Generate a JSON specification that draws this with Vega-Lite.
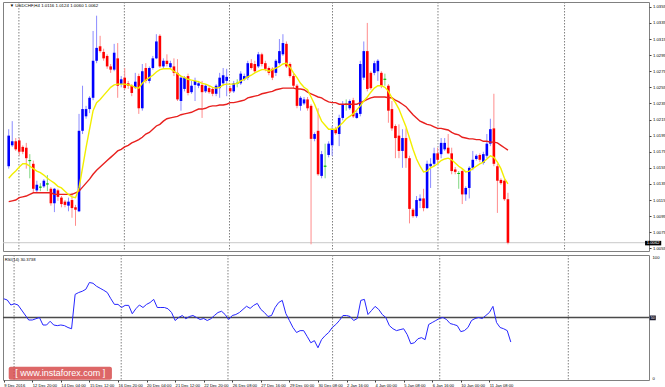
{
  "$schema": "https://vega.github.io/schema/vega-lite/v6.json",
  "background": "#ffffff",
  "padding": {"left": 1, "top": 1, "right": 0, "bottom": 0},
  "spacing": 2,
  "config": {
    "view": {"stroke": "#808080", "strokeWidth": 1},
    "font": "Liberation Sans, DejaVu Sans",
    "axis": {"labelFont": "Liberation Sans", "labelColor": "#000000", "tickColor": "#404040", "domain": false, "grid": false, "labelOverlap": false}
  },
  "resolve": {"scale": {"x": "independent"}},
  "datasets": {
    "grid": [{"g": 2.9}, {"g": 32.9}, {"g": 62.8}, {"g": 92.1}, {"g": 122.1}, {"g": 158.1}],
    "bars": [
      {"i":0,"o":1.0157,"h":1.0203,"l":1.0154,"c":1.0195,"m1":1.0142,"m2":1.0113,"r":65},
      {"i":1,"o":1.0183,"h":1.0213,"l":1.0181,"c":1.0188,"m1":1.0147,"m2":1.0114,"r":64},
      {"i":2,"o":1.0188,"h":1.0192,"l":1.0176,"c":1.0178,"m1":1.0151,"m2":1.0115,"r":60},
      {"i":3,"o":1.0189,"h":1.0192,"l":1.0170,"c":1.0175,"m1":1.0156,"m2":1.0118,"r":61},
      {"i":4,"o":1.0181,"h":1.0183,"l":1.0172,"c":1.0175,"m1":1.0160,"m2":1.0119,"r":60},
      {"i":5,"o":1.0180,"h":1.0186,"l":1.0154,"c":1.0167,"m1":1.0160,"m2":1.0120,"r":56},
      {"i":6,"o":1.0164,"h":1.0172,"l":1.0142,"c":1.0164,"m1":1.0157,"m2":1.0122,"r":52},
      {"i":7,"o":1.0160,"h":1.0164,"l":1.0125,"c":1.0129,"m1":1.0154,"m2":1.0124,"r":48},
      {"i":8,"o":1.0127,"h":1.0139,"l":1.0124,"c":1.0134,"m1":1.0151,"m2":1.0124,"r":48},
      {"i":9,"o":1.0131,"h":1.0136,"l":1.0126,"c":1.0131,"m1":1.0149,"m2":1.0124,"r":49},
      {"i":10,"o":1.0132,"h":1.0141,"l":1.0130,"c":1.0139,"m1":1.0146,"m2":1.0124,"r":50},
      {"i":11,"o":1.0135,"h":1.0146,"l":1.0126,"c":1.0135,"m1":1.0142,"m2":1.0124,"r":44},
      {"i":12,"o":1.0129,"h":1.0131,"l":1.0108,"c":1.0111,"m1":1.0139,"m2":1.0124,"r":44},
      {"i":13,"o":1.0111,"h":1.0130,"l":1.0100,"c":1.0129,"m1":1.0136,"m2":1.0122,"r":47},
      {"i":14,"o":1.0127,"h":1.0129,"l":1.0114,"c":1.0119,"m1":1.0132,"m2":1.0122,"r":44},
      {"i":15,"o":1.0118,"h":1.0120,"l":1.0106,"c":1.0110,"m1":1.0130,"m2":1.0122,"r":43.5},
      {"i":16,"o":1.0113,"h":1.0115,"l":1.0106,"c":1.0109,"m1":1.0126,"m2":1.0122,"r":44},
      {"i":17,"o":1.0108,"h":1.0118,"l":1.0101,"c":1.0113,"m1":1.0122,"m2":1.0122,"r":43.5},
      {"i":18,"o":1.0115,"h":1.0124,"l":1.0093,"c":1.0105,"m1":1.0119,"m2":1.0122,"r":42},
      {"i":19,"o":1.0106,"h":1.0109,"l":1.0083,"c":1.0103,"m1":1.0118,"m2":1.0124,"r":41},
      {"i":20,"o":1.0101,"h":1.0222,"l":1.0100,"c":1.0201,"m1":1.0130,"m2":1.0126,"r":68.5},
      {"i":21,"o":1.0201,"h":1.0257,"l":1.0197,"c":1.0228,"m1":1.0155,"m2":1.0131,"r":70},
      {"i":22,"o":1.0219,"h":1.0232,"l":1.0216,"c":1.0228,"m1":1.0180,"m2":1.0136,"r":71},
      {"i":23,"o":1.0228,"h":1.0244,"l":1.0223,"c":1.0242,"m1":1.0203,"m2":1.0141,"r":72.6},
      {"i":24,"o":1.0242,"h":1.0325,"l":1.0239,"c":1.0288,"m1":1.0226,"m2":1.0147,"r":78},
      {"i":25,"o":1.0288,"h":1.0344,"l":1.0285,"c":1.0304,"m1":1.0236,"m2":1.0152,"r":77.4},
      {"i":26,"o":1.0306,"h":1.0319,"l":1.0298,"c":1.0300,"m1":1.0240,"m2":1.0156,"r":75},
      {"i":27,"o":1.0299,"h":1.0303,"l":1.0288,"c":1.0291,"m1":1.0245,"m2":1.0160,"r":73.4},
      {"i":28,"o":1.0294,"h":1.0296,"l":1.0278,"c":1.0281,"m1":1.0250,"m2":1.0164,"r":71.8},
      {"i":29,"o":1.0281,"h":1.0284,"l":1.0273,"c":1.0277,"m1":1.0255,"m2":1.0168,"r":70},
      {"i":30,"o":1.0277,"h":1.0309,"l":1.0275,"c":1.0298,"m1":1.0258,"m2":1.0172,"r":65},
      {"i":31,"o":1.0291,"h":1.0310,"l":1.0242,"c":1.0257,"m1":1.0259,"m2":1.0176,"r":60.5},
      {"i":32,"o":1.0259,"h":1.0269,"l":1.0255,"c":1.0265,"m1":1.0259,"m2":1.0178,"r":60.5},
      {"i":33,"o":1.0267,"h":1.0279,"l":1.0252,"c":1.0254,"m1":1.0259,"m2":1.0181,"r":58},
      {"i":34,"o":1.0260,"h":1.0263,"l":1.0253,"c":1.0257,"m1":1.0258,"m2":1.0183,"r":59.7},
      {"i":35,"o":1.0257,"h":1.0259,"l":1.0244,"c":1.0248,"m1":1.0257,"m2":1.0186,"r":59.7},
      {"i":36,"o":1.0255,"h":1.0273,"l":1.0253,"c":1.0262,"m1":1.0255,"m2":1.0188,"r":53},
      {"i":37,"o":1.0269,"h":1.0272,"l":1.0222,"c":1.0229,"m1":1.0254,"m2":1.0190,"r":57},
      {"i":38,"o":1.0229,"h":1.0284,"l":1.0226,"c":1.0275,"m1":1.0260,"m2":1.0193,"r":60},
      {"i":39,"o":1.0279,"h":1.0285,"l":1.0260,"c":1.0263,"m1":1.0264,"m2":1.0197,"r":58},
      {"i":40,"o":1.0263,"h":1.0281,"l":1.0260,"c":1.0279,"m1":1.0267,"m2":1.0199,"r":60.5},
      {"i":41,"o":1.0279,"h":1.0294,"l":1.0277,"c":1.0291,"m1":1.0270,"m2":1.0203,"r":62},
      {"i":42,"o":1.0291,"h":1.0321,"l":1.0290,"c":1.0312,"m1":1.0274,"m2":1.0207,"r":64.5},
      {"i":43,"o":1.0319,"h":1.0321,"l":1.0279,"c":1.0281,"m1":1.0277,"m2":1.0209,"r":58},
      {"i":44,"o":1.0281,"h":1.0291,"l":1.0279,"c":1.0288,"m1":1.0278,"m2":1.0213,"r":58},
      {"i":45,"o":1.0288,"h":1.0296,"l":1.0281,"c":1.0284,"m1":1.0278,"m2":1.0216,"r":58},
      {"i":46,"o":1.0280,"h":1.0288,"l":1.0278,"c":1.0285,"m1":1.0278,"m2":1.0217,"r":57},
      {"i":47,"o":1.0281,"h":1.0291,"l":1.0269,"c":1.0273,"m1":1.0275,"m2":1.0218,"r":54},
      {"i":48,"o":1.0273,"h":1.0290,"l":1.0238,"c":1.0240,"m1":1.0272,"m2":1.0219,"r":47.6},
      {"i":49,"o":1.0238,"h":1.0269,"l":1.0226,"c":1.0267,"m1":1.0269,"m2":1.0221,"r":50},
      {"i":50,"o":1.0253,"h":1.0269,"l":1.0250,"c":1.0267,"m1":1.0267,"m2":1.0222,"r":51.6},
      {"i":51,"o":1.0269,"h":1.0272,"l":1.0245,"c":1.0248,"m1":1.0265,"m2":1.0223,"r":49},
      {"i":52,"o":1.0249,"h":1.0263,"l":1.0247,"c":1.0257,"m1":1.0264,"m2":1.0224,"r":50.8},
      {"i":53,"o":1.0258,"h":1.0267,"l":1.0238,"c":1.0263,"m1":1.0263,"m2":1.0226,"r":51.6},
      {"i":54,"o":1.0257,"h":1.0263,"l":1.0254,"c":1.0260,"m1":1.0262,"m2":1.0228,"r":50},
      {"i":55,"o":1.0258,"h":1.0263,"l":1.0217,"c":1.0249,"m1":1.0260,"m2":1.0228,"r":48.4},
      {"i":56,"o":1.0250,"h":1.0259,"l":1.0248,"c":1.0257,"m1":1.0259,"m2":1.0229,"r":49.2},
      {"i":57,"o":1.0254,"h":1.0257,"l":1.0247,"c":1.0249,"m1":1.0257,"m2":1.0231,"r":47.6},
      {"i":58,"o":1.0253,"h":1.0255,"l":1.0244,"c":1.0247,"m1":1.0255,"m2":1.0232,"r":49},
      {"i":59,"o":1.0247,"h":1.0259,"l":1.0244,"c":1.0257,"m1":1.0254,"m2":1.0232,"r":51.6},
      {"i":60,"o":1.0254,"h":1.0273,"l":1.0242,"c":1.0267,"m1":1.0255,"m2":1.0233,"r":54},
      {"i":61,"o":1.0260,"h":1.0279,"l":1.0257,"c":1.0270,"m1":1.0258,"m2":1.0233,"r":55},
      {"i":62,"o":1.0263,"h":1.0278,"l":1.0244,"c":1.0268,"m1":1.0259,"m2":1.0234,"r":52.4},
      {"i":63,"o":1.0254,"h":1.0257,"l":1.0248,"c":1.0250,"m1":1.0259,"m2":1.0236,"r":48.4},
      {"i":64,"o":1.0250,"h":1.0263,"l":1.0248,"c":1.0260,"m1":1.0259,"m2":1.0236,"r":51.6},
      {"i":65,"o":1.0260,"h":1.0265,"l":1.0255,"c":1.0260,"m1":1.0260,"m2":1.0237,"r":52.4},
      {"i":66,"o":1.0260,"h":1.0275,"l":1.0258,"c":1.0272,"m1":1.0263,"m2":1.0238,"r":54},
      {"i":67,"o":1.0265,"h":1.0272,"l":1.0263,"c":1.0269,"m1":1.0265,"m2":1.0239,"r":56.5},
      {"i":68,"o":1.0267,"h":1.0288,"l":1.0264,"c":1.0285,"m1":1.0268,"m2":1.0242,"r":59},
      {"i":69,"o":1.0285,"h":1.0290,"l":1.0277,"c":1.0279,"m1":1.0270,"m2":1.0243,"r":57.3},
      {"i":70,"o":1.0284,"h":1.0288,"l":1.0273,"c":1.0275,"m1":1.0273,"m2":1.0244,"r":59.7},
      {"i":71,"o":1.0281,"h":1.0299,"l":1.0279,"c":1.0296,"m1":1.0275,"m2":1.0245,"r":61.3},
      {"i":72,"o":1.0296,"h":1.0298,"l":1.0281,"c":1.0284,"m1":1.0277,"m2":1.0247,"r":56.5},
      {"i":73,"o":1.0285,"h":1.0288,"l":1.0275,"c":1.0278,"m1":1.0277,"m2":1.0248,"r":54},
      {"i":74,"o":1.0279,"h":1.0281,"l":1.0270,"c":1.0273,"m1":1.0275,"m2":1.0249,"r":50.8},
      {"i":75,"o":1.0278,"h":1.0280,"l":1.0264,"c":1.0267,"m1":1.0277,"m2":1.0250,"r":51.6},
      {"i":76,"o":1.0273,"h":1.0290,"l":1.0269,"c":1.0288,"m1":1.0279,"m2":1.0252,"r":58},
      {"i":77,"o":1.0285,"h":1.0315,"l":1.0283,"c":1.0300,"m1":1.0281,"m2":1.0253,"r":62},
      {"i":78,"o":1.0296,"h":1.0321,"l":1.0294,"c":1.0310,"m1":1.0284,"m2":1.0254,"r":63.7},
      {"i":79,"o":1.0309,"h":1.0312,"l":1.0279,"c":1.0281,"m1":1.0285,"m2":1.0254,"r":53.2},
      {"i":80,"o":1.0284,"h":1.0286,"l":1.0267,"c":1.0269,"m1":1.0280,"m2":1.0254,"r":47.6},
      {"i":81,"o":1.0269,"h":1.0272,"l":1.0254,"c":1.0257,"m1":1.0273,"m2":1.0254,"r":42},
      {"i":82,"o":1.0257,"h":1.0259,"l":1.0229,"c":1.0232,"m1":1.0267,"m2":1.0253,"r":38},
      {"i":83,"o":1.0232,"h":1.0244,"l":1.0226,"c":1.0242,"m1":1.0260,"m2":1.0253,"r":39.5},
      {"i":84,"o":1.0235,"h":1.0243,"l":1.0233,"c":1.0240,"m1":1.0255,"m2":1.0252,"r":39.5},
      {"i":85,"o":1.0240,"h":1.0243,"l":1.0226,"c":1.0229,"m1":1.0252,"m2":1.0249,"r":34.7},
      {"i":86,"o":1.0232,"h":1.0234,"l":1.0060,"c":1.0191,"m1":1.0243,"m2":1.0247,"r":29.8},
      {"i":87,"o":1.0191,"h":1.0199,"l":1.0188,"c":1.0197,"m1":1.0234,"m2":1.0245,"r":31.5},
      {"i":88,"o":1.0201,"h":1.0229,"l":1.0145,"c":1.0147,"m1":1.0223,"m2":1.0243,"r":25.8},
      {"i":89,"o":1.0145,"h":1.0176,"l":1.0142,"c":1.0172,"m1":1.0213,"m2":1.0242,"r":32.3},
      {"i":90,"o":1.0157,"h":1.0185,"l":1.0142,"c":1.0157,"m1":1.0208,"m2":1.0239,"r":35.5},
      {"i":91,"o":1.0171,"h":1.0188,"l":1.0168,"c":1.0185,"m1":1.0203,"m2":1.0237,"r":38},
      {"i":92,"o":1.0183,"h":1.0207,"l":1.0170,"c":1.0203,"m1":1.0203,"m2":1.0236,"r":42},
      {"i":93,"o":1.0203,"h":1.0206,"l":1.0196,"c":1.0198,"m1":1.0203,"m2":1.0236,"r":44.4},
      {"i":94,"o":1.0197,"h":1.0221,"l":1.0182,"c":1.0217,"m1":1.0207,"m2":1.0234,"r":47.6},
      {"i":95,"o":1.0217,"h":1.0238,"l":1.0214,"c":1.0234,"m1":1.0211,"m2":1.0234,"r":51.6},
      {"i":96,"o":1.0234,"h":1.0240,"l":1.0226,"c":1.0234,"m1":1.0216,"m2":1.0234,"r":51.6},
      {"i":97,"o":1.0229,"h":1.0240,"l":1.0227,"c":1.0238,"m1":1.0219,"m2":1.0234,"r":50.8},
      {"i":98,"o":1.0239,"h":1.0242,"l":1.0217,"c":1.0219,"m1":1.0222,"m2":1.0234,"r":47.6},
      {"i":99,"o":1.0217,"h":1.0226,"l":1.0216,"c":1.0223,"m1":1.0227,"m2":1.0234,"r":49.2},
      {"i":100,"o":1.0222,"h":1.0288,"l":1.0219,"c":1.0284,"m1":1.0232,"m2":1.0236,"r":63.7},
      {"i":101,"o":1.0267,"h":1.0312,"l":1.0264,"c":1.0300,"m1":1.0238,"m2":1.0238,"r":64.5},
      {"i":102,"o":1.0300,"h":1.0335,"l":1.0250,"c":1.0253,"m1":1.0243,"m2":1.0240,"r":52.4},
      {"i":103,"o":1.0273,"h":1.0275,"l":1.0252,"c":1.0254,"m1":1.0249,"m2":1.0242,"r":55.6},
      {"i":104,"o":1.0273,"h":1.0288,"l":1.0270,"c":1.0285,"m1":1.0254,"m2":1.0243,"r":58.9},
      {"i":105,"o":1.0275,"h":1.0290,"l":1.0263,"c":1.0288,"m1":1.0257,"m2":1.0243,"r":56.5},
      {"i":106,"o":1.0273,"h":1.0275,"l":1.0254,"c":1.0257,"m1":1.0257,"m2":1.0243,"r":52.4},
      {"i":107,"o":1.0265,"h":1.0272,"l":1.0257,"c":1.0265,"m1":1.0255,"m2":1.0243,"r":50},
      {"i":108,"o":1.0257,"h":1.0259,"l":1.0211,"c":1.0226,"m1":1.0250,"m2":1.0242,"r":43.5},
      {"i":109,"o":1.0228,"h":1.0238,"l":1.0201,"c":1.0204,"m1":1.0242,"m2":1.0242,"r":41},
      {"i":110,"o":1.0207,"h":1.0209,"l":1.0167,"c":1.0192,"m1":1.0236,"m2":1.0239,"r":39.5},
      {"i":111,"o":1.0195,"h":1.0209,"l":1.0167,"c":1.0176,"m1":1.0228,"m2":1.0237,"r":40.3},
      {"i":112,"o":1.0176,"h":1.0203,"l":1.0155,"c":1.0192,"m1":1.0217,"m2":1.0234,"r":41},
      {"i":113,"o":1.0192,"h":1.0204,"l":1.0155,"c":1.0167,"m1":1.0206,"m2":1.0231,"r":36.3},
      {"i":114,"o":1.0167,"h":1.0170,"l":1.0086,"c":1.0104,"m1":1.0192,"m2":1.0226,"r":29},
      {"i":115,"o":1.0103,"h":1.0105,"l":1.0093,"c":1.0095,"m1":1.0178,"m2":1.0221,"r":29.8},
      {"i":116,"o":1.0095,"h":1.0120,"l":1.0093,"c":1.0115,"m1":1.0166,"m2":1.0217,"r":33},
      {"i":117,"o":1.0114,"h":1.0122,"l":1.0105,"c":1.0117,"m1":1.0157,"m2":1.0213,"r":33.9},
      {"i":118,"o":1.0117,"h":1.0129,"l":1.0101,"c":1.0105,"m1":1.0150,"m2":1.0211,"r":32.3},
      {"i":119,"o":1.0105,"h":1.0164,"l":1.0104,"c":1.0160,"m1":1.0151,"m2":1.0209,"r":44.4},
      {"i":120,"o":1.0157,"h":1.0167,"l":1.0130,"c":1.0160,"m1":1.0155,"m2":1.0208,"r":46},
      {"i":121,"o":1.0160,"h":1.0180,"l":1.0157,"c":1.0173,"m1":1.0157,"m2":1.0206,"r":47.6},
      {"i":122,"o":1.0173,"h":1.0180,"l":1.0161,"c":1.0165,"m1":1.0160,"m2":1.0204,"r":49.2},
      {"i":123,"o":1.0172,"h":1.0192,"l":1.0167,"c":1.0186,"m1":1.0164,"m2":1.0204,"r":50},
      {"i":124,"o":1.0178,"h":1.0192,"l":1.0176,"c":1.0186,"m1":1.0166,"m2":1.0203,"r":48.4},
      {"i":125,"o":1.0180,"h":1.0197,"l":1.0172,"c":1.0173,"m1":1.0167,"m2":1.0202,"r":45.2},
      {"i":126,"o":1.0173,"h":1.0180,"l":1.0147,"c":1.0151,"m1":1.0165,"m2":1.0199,"r":44.4},
      {"i":127,"o":1.0153,"h":1.0156,"l":1.0147,"c":1.0150,"m1":1.0161,"m2":1.0197,"r":43.5},
      {"i":128,"o":1.0148,"h":1.0151,"l":1.0129,"c":1.0148,"m1":1.0157,"m2":1.0196,"r":38.7},
      {"i":129,"o":1.0151,"h":1.0153,"l":1.0110,"c":1.0122,"m1":1.0154,"m2":1.0193,"r":39.5},
      {"i":130,"o":1.0122,"h":1.0132,"l":1.0114,"c":1.0130,"m1":1.0150,"m2":1.0192,"r":42},
      {"i":131,"o":1.0130,"h":1.0157,"l":1.0117,"c":1.0155,"m1":1.0151,"m2":1.0191,"r":47.6},
      {"i":132,"o":1.0155,"h":1.0176,"l":1.0152,"c":1.0165,"m1":1.0154,"m2":1.0191,"r":49.2},
      {"i":133,"o":1.0166,"h":1.0172,"l":1.0164,"c":1.0170,"m1":1.0157,"m2":1.0190,"r":50},
      {"i":134,"o":1.0171,"h":1.0173,"l":1.0162,"c":1.0165,"m1":1.0160,"m2":1.0190,"r":49.2},
      {"i":135,"o":1.0161,"h":1.0175,"l":1.0159,"c":1.0172,"m1":1.0162,"m2":1.0188,"r":51.6},
      {"i":136,"o":1.0170,"h":1.0197,"l":1.0167,"c":1.0185,"m1":1.0166,"m2":1.0188,"r":54},
      {"i":137,"o":1.0185,"h":1.0216,"l":1.0182,"c":1.0203,"m1":1.0170,"m2":1.0187,"r":58.9},
      {"i":138,"o":1.0204,"h":1.0247,"l":1.0157,"c":1.0160,"m1":1.0168,"m2":1.0187,"r":46},
      {"i":139,"o":1.0157,"h":1.0160,"l":1.0099,"c":1.0139,"m1":1.0162,"m2":1.0186,"r":42},
      {"i":140,"o":1.0140,"h":1.0142,"l":1.0134,"c":1.0136,"m1":1.0154,"m2":1.0183,"r":41},
      {"i":141,"o":1.0139,"h":1.0141,"l":1.0114,"c":1.0116,"m1":1.0142,"m2":1.0180,"r":39.5},
      {"i":142,"o":1.0116,"h":1.0124,"l":1.0060,"c":1.0062,"m1":1.0135,"m2":1.0177,"r":30.3738}
    ]
  },
  "vconcat": [
    {
      "width": 646,
      "height": 249,
      "layer": [
        {
          "data": {"name": "grid"},
          "mark": {"type": "rule", "color": "#808080", "strokeDash": [1.5, 1.5], "strokeWidth": 1},
          "encoding": {"x": {"field": "g", "type": "quantitative", "scale": {"domain": [-0.2, 180.7], "nice": false, "zero": false}, "axis": null}}
        },
        {
          "data": {"values": [{"p": 1.0062}]},
          "mark": {"type": "rule", "color": "#c8c8c8", "strokeWidth": 1},
          "encoding": {
            "y": {"field": "p", "type": "quantitative", "scale": {"domain": [1.00517, 1.0361], "nice": false, "zero": false},
              "axis": {"orient": "right", "title": null, "values": [1.0055, 1.0075, 1.0095, 1.0115, 1.0135, 1.0155, 1.0175, 1.0195, 1.0215, 1.0235, 1.0255, 1.0275, 1.0295, 1.0315, 1.0335, 1.0355], "format": ".4f", "labelFontSize": 4.2, "tickSize": 2, "labelPadding": 1.5}}
          }
        },
        {
          "data": {"name": "bars"},
          "mark": {"type": "rule", "strokeWidth": 1},
          "encoding": {
            "x": {"field": "i", "type": "quantitative", "scale": {"domain": [-0.2, 180.7], "nice": false, "zero": false}, "axis": null},
            "y": {"field": "l", "type": "quantitative", "scale": {"domain": [1.00517, 1.0361], "nice": false, "zero": false},
              "axis": {"orient": "right", "title": null, "values": [1.0055, 1.0075, 1.0095, 1.0115, 1.0135, 1.0155, 1.0175, 1.0195, 1.0215, 1.0235, 1.0255, 1.0275, 1.0295, 1.0315, 1.0335, 1.0355], "format": ".4f", "labelFontSize": 4.2, "tickSize": 2, "labelPadding": 1.5}},
            "y2": {"field": "h"},
            "color": {"condition": [{"test": "datum.c > datum.o", "value": "#8c8cff"}, {"test": "datum.c < datum.o", "value": "#ff8c8c"}], "value": "#7fd67f"}
          }
        },
        {
          "data": {"name": "bars"},
          "mark": {"type": "bar", "size": 2.6, "orient": "vertical"},
          "encoding": {
            "x": {"field": "i", "type": "quantitative", "scale": {"domain": [-0.2, 180.7], "nice": false, "zero": false}, "axis": null},
            "y": {"field": "o", "type": "quantitative", "scale": {"domain": [1.00517, 1.0361], "nice": false, "zero": false},
              "axis": {"orient": "right", "title": null, "values": [1.0055, 1.0075, 1.0095, 1.0115, 1.0135, 1.0155, 1.0175, 1.0195, 1.0215, 1.0235, 1.0255, 1.0275, 1.0295, 1.0315, 1.0335, 1.0355], "format": ".4f", "labelFontSize": 4.2, "tickSize": 2, "labelPadding": 1.5}},
            "y2": {"field": "c"},
            "color": {"condition": [{"test": "datum.c > datum.o", "value": "#0000ff"}, {"test": "datum.c < datum.o", "value": "#ff0000"}], "value": "#00c000"},
            "stroke": {"condition": [{"test": "datum.c > datum.o", "value": "#0000ff"}, {"test": "datum.c < datum.o", "value": "#ff0000"}], "value": "#00c000"},
            "strokeWidth": {"condition": {"test": "datum.c == datum.o", "value": 0.8}, "value": 0}
          }
        },
        {
          "data": {"name": "bars"},
          "mark": {"type": "line", "color": "#e8201e", "strokeWidth": 1.4},
          "encoding": {
            "x": {"field": "i", "type": "quantitative", "scale": {"domain": [-0.2, 180.7], "nice": false, "zero": false}, "axis": null},
            "y": {"field": "m2", "type": "quantitative", "scale": {"domain": [1.00517, 1.0361], "nice": false, "zero": false},
              "axis": {"orient": "right", "title": null, "values": [1.0055, 1.0075, 1.0095, 1.0115, 1.0135, 1.0155, 1.0175, 1.0195, 1.0215, 1.0235, 1.0255, 1.0275, 1.0295, 1.0315, 1.0335, 1.0355], "format": ".4f", "labelFontSize": 4.2, "tickSize": 2, "labelPadding": 1.5}}
          }
        },
        {
          "data": {"name": "bars"},
          "mark": {"type": "line", "color": "#f2ee00", "strokeWidth": 1.4},
          "encoding": {
            "x": {"field": "i", "type": "quantitative", "scale": {"domain": [-0.2, 180.7], "nice": false, "zero": false}, "axis": null},
            "y": {"field": "m1", "type": "quantitative", "scale": {"domain": [1.00517, 1.0361], "nice": false, "zero": false},
              "axis": {"orient": "right", "title": null, "values": [1.0055, 1.0075, 1.0095, 1.0115, 1.0135, 1.0155, 1.0175, 1.0195, 1.0215, 1.0235, 1.0255, 1.0275, 1.0295, 1.0315, 1.0335, 1.0355], "format": ".4f", "labelFontSize": 4.2, "tickSize": 2, "labelPadding": 1.5}}
          }
        },
        {
          "data": {"values": [{"x": 0.3, "y": 1.03556, "t": "▼ USDCHF,H4  1.0116 1.0124 1.0060 1.0062"}]},
          "mark": {"type": "text", "align": "left", "baseline": "middle", "fontSize": 4.4, "color": "#000000"},
          "encoding": {
            "x": {"field": "x", "type": "quantitative", "scale": {"domain": [-0.2, 180.7], "nice": false, "zero": false}, "axis": null},
            "y": {"field": "y", "type": "quantitative", "scale": {"domain": [1.00517, 1.0361], "nice": false, "zero": false},
              "axis": {"orient": "right", "title": null, "values": [1.0055, 1.0075, 1.0095, 1.0115, 1.0135, 1.0155, 1.0175, 1.0195, 1.0215, 1.0235, 1.0255, 1.0275, 1.0295, 1.0315, 1.0335, 1.0355], "format": ".4f", "labelFontSize": 4.2, "tickSize": 2, "labelPadding": 1.5}},
            "text": {"field": "t"}
          }
        },
        {
          "data": {"values": [{"x": 181.0, "x2": 185.6, "y": 1.00643, "y2": 1.00587}]},
          "mark": {"type": "rect", "color": "#000000"},
          "encoding": {
            "x": {"field": "x", "type": "quantitative", "scale": {"domain": [-0.2, 180.7], "nice": false, "zero": false}, "axis": null},
            "x2": {"field": "x2"},
            "y": {"field": "y", "type": "quantitative", "scale": {"domain": [1.00517, 1.0361], "nice": false, "zero": false},
              "axis": {"orient": "right", "title": null, "values": [1.0055, 1.0075, 1.0095, 1.0115, 1.0135, 1.0155, 1.0175, 1.0195, 1.0215, 1.0235, 1.0255, 1.0275, 1.0295, 1.0315, 1.0335, 1.0355], "format": ".4f", "labelFontSize": 4.2, "tickSize": 2, "labelPadding": 1.5}},
            "y2": {"field": "y2"}
          }
        },
        {
          "data": {"values": [{"x": 183.3, "y": 1.00615, "t": "1.0062"}]},
          "mark": {"type": "text", "align": "center", "baseline": "middle", "fontSize": 4.2, "color": "#ffffff"},
          "encoding": {
            "x": {"field": "x", "type": "quantitative", "scale": {"domain": [-0.2, 180.7], "nice": false, "zero": false}, "axis": null},
            "y": {"field": "y", "type": "quantitative", "scale": {"domain": [1.00517, 1.0361], "nice": false, "zero": false},
              "axis": {"orient": "right", "title": null, "values": [1.0055, 1.0075, 1.0095, 1.0115, 1.0135, 1.0155, 1.0175, 1.0195, 1.0215, 1.0235, 1.0255, 1.0275, 1.0295, 1.0315, 1.0335, 1.0355], "format": ".4f", "labelFontSize": 4.2, "tickSize": 2, "labelPadding": 1.5}},
            "text": {"field": "t"}
          }
        }
      ]
    },
    {
      "width": 646,
      "height": 125,
      "layer": [
        {
          "data": {"name": "grid"},
          "mark": {"type": "rule", "color": "#808080", "strokeDash": [1.5, 1.5], "strokeWidth": 1},
          "encoding": {"x": {"field": "g", "type": "quantitative", "scale": {"domain": [-0.2, 180.7], "nice": false, "zero": false},
            "axis": {"orient": "bottom", "title": null, "values": [0, 8, 16, 24, 32, 40, 48, 56, 64, 72, 80, 88, 96, 104, 112, 120, 128, 136], "labelExpr": "({'0':'9 Dec 2016','8':'12 Dec 20:00','16':'14 Dec 04:00','24':'15 Dec 12:00','32':'16 Dec 20:00','40':'20 Dec 04:00','48':'21 Dec 12:00','56':'22 Dec 20:00','64':'26 Dec 08:00','72':'27 Dec 16:00','80':'29 Dec 00:00','88':'30 Dec 08:00','96':'2 Jan 16:00','104':'4 Jan 00:00','112':'5 Jan 08:00','120':'6 Jan 16:00','128':'10 Jan 00:00','136':'11 Jan 08:00'})[datum.value]", "labelAlign": "left", "labelFontSize": 4.1, "tickSize": 2, "labelPadding": 1}}}
        },
        {
          "data": {"values": [{"v": 50}]},
          "mark": {"type": "rule", "color": "#4a4a4a", "strokeWidth": 1.5},
          "encoding": {"y": {"field": "v", "type": "quantitative", "scale": {"domain": [0, 100], "nice": false, "zero": false},
            "axis": {"orient": "right", "title": null, "values": [0, 100], "labelFontSize": 4.2, "tickSize": 0, "labelPadding": 3, "labelFlush": true}}}
        },
        {
          "data": {"name": "bars"},
          "mark": {"type": "line", "color": "#2626ff", "strokeWidth": 1},
          "encoding": {
            "x": {"field": "i", "type": "quantitative", "scale": {"domain": [-0.2, 180.7], "nice": false, "zero": false},
              "axis": {"orient": "bottom", "title": null, "values": [0, 8, 16, 24, 32, 40, 48, 56, 64, 72, 80, 88, 96, 104, 112, 120, 128, 136], "labelExpr": "({'0':'9 Dec 2016','8':'12 Dec 20:00','16':'14 Dec 04:00','24':'15 Dec 12:00','32':'16 Dec 20:00','40':'20 Dec 04:00','48':'21 Dec 12:00','56':'22 Dec 20:00','64':'26 Dec 08:00','72':'27 Dec 16:00','80':'29 Dec 00:00','88':'30 Dec 08:00','96':'2 Jan 16:00','104':'4 Jan 00:00','112':'5 Jan 08:00','120':'6 Jan 16:00','128':'10 Jan 00:00','136':'11 Jan 08:00'})[datum.value]", "labelAlign": "left", "labelFontSize": 4.1, "tickSize": 2, "labelPadding": 1}},
            "y": {"field": "r", "type": "quantitative", "scale": {"domain": [0, 100], "nice": false, "zero": false},
              "axis": {"orient": "right", "title": null, "values": [0, 100], "labelFontSize": 4.2, "tickSize": 0, "labelPadding": 3, "labelFlush": true}}
          }
        },
        {
          "data": {"values": [{"x": 0.3, "y": 96, "t": "RSI(14) 30.3738"}]},
          "mark": {"type": "text", "align": "left", "baseline": "middle", "fontSize": 4.2, "color": "#000000"},
          "encoding": {
            "x": {"field": "x", "type": "quantitative", "scale": {"domain": [-0.2, 180.7], "nice": false, "zero": false},
              "axis": {"orient": "bottom", "title": null, "values": [0, 8, 16, 24, 32, 40, 48, 56, 64, 72, 80, 88, 96, 104, 112, 120, 128, 136], "labelExpr": "({'0':'9 Dec 2016','8':'12 Dec 20:00','16':'14 Dec 04:00','24':'15 Dec 12:00','32':'16 Dec 20:00','40':'20 Dec 04:00','48':'21 Dec 12:00','56':'22 Dec 20:00','64':'26 Dec 08:00','72':'27 Dec 16:00','80':'29 Dec 00:00','88':'30 Dec 08:00','96':'2 Jan 16:00','104':'4 Jan 00:00','112':'5 Jan 08:00','120':'6 Jan 16:00','128':'10 Jan 00:00','136':'11 Jan 08:00'})[datum.value]", "labelAlign": "left", "labelFontSize": 4.1, "tickSize": 2, "labelPadding": 1}},
            "y": {"field": "y", "type": "quantitative", "scale": {"domain": [0, 100], "nice": false, "zero": false},
              "axis": {"orient": "right", "title": null, "values": [0, 100], "labelFontSize": 4.2, "tickSize": 0, "labelPadding": 3, "labelFlush": true}},
            "text": {"field": "t"}
          }
        },
        {
          "data": {"values": [{"x": 1.4, "x2": 30.3, "y": 0.3, "y2": 10.6}]},
          "mark": {"type": "rect", "color": "#d64545", "opacity": 0.82, "cornerRadius": 2},
          "encoding": {
            "x": {"field": "x", "type": "quantitative", "scale": {"domain": [-0.2, 180.7], "nice": false, "zero": false},
              "axis": {"orient": "bottom", "title": null, "values": [0, 8, 16, 24, 32, 40, 48, 56, 64, 72, 80, 88, 96, 104, 112, 120, 128, 136], "labelExpr": "({'0':'9 Dec 2016','8':'12 Dec 20:00','16':'14 Dec 04:00','24':'15 Dec 12:00','32':'16 Dec 20:00','40':'20 Dec 04:00','48':'21 Dec 12:00','56':'22 Dec 20:00','64':'26 Dec 08:00','72':'27 Dec 16:00','80':'29 Dec 00:00','88':'30 Dec 08:00','96':'2 Jan 16:00','104':'4 Jan 00:00','112':'5 Jan 08:00','120':'6 Jan 16:00','128':'10 Jan 00:00','136':'11 Jan 08:00'})[datum.value]", "labelAlign": "left", "labelFontSize": 4.1, "tickSize": 2, "labelPadding": 1}},
            "x2": {"field": "x2"},
            "y": {"field": "y", "type": "quantitative", "scale": {"domain": [0, 100], "nice": false, "zero": false},
              "axis": {"orient": "right", "title": null, "values": [0, 100], "labelFontSize": 4.2, "tickSize": 0, "labelPadding": 3, "labelFlush": true}},
            "y2": {"field": "y2"}
          }
        },
        {
          "data": {"values": [{"x": 15.85, "y": 5.4, "t": "[  www.instaforex.com  ]"}]},
          "mark": {"type": "text", "align": "center", "baseline": "middle", "fontSize": 9, "color": "#ffffff"},
          "encoding": {
            "x": {"field": "x", "type": "quantitative", "scale": {"domain": [-0.2, 180.7], "nice": false, "zero": false},
              "axis": {"orient": "bottom", "title": null, "values": [0, 8, 16, 24, 32, 40, 48, 56, 64, 72, 80, 88, 96, 104, 112, 120, 128, 136], "labelExpr": "({'0':'9 Dec 2016','8':'12 Dec 20:00','16':'14 Dec 04:00','24':'15 Dec 12:00','32':'16 Dec 20:00','40':'20 Dec 04:00','48':'21 Dec 12:00','56':'22 Dec 20:00','64':'26 Dec 08:00','72':'27 Dec 16:00','80':'29 Dec 00:00','88':'30 Dec 08:00','96':'2 Jan 16:00','104':'4 Jan 00:00','112':'5 Jan 08:00','120':'6 Jan 16:00','128':'10 Jan 00:00','136':'11 Jan 08:00'})[datum.value]", "labelAlign": "left", "labelFontSize": 4.1, "tickSize": 2, "labelPadding": 1}},
            "y": {"field": "y", "type": "quantitative", "scale": {"domain": [0, 100], "nice": false, "zero": false},
              "axis": {"orient": "right", "title": null, "values": [0, 100], "labelFontSize": 4.2, "tickSize": 0, "labelPadding": 3, "labelFlush": true}},
            "text": {"field": "t"}
          }
        },
        {
          "data": {"values": [{"x": 180.9, "x2": 182.6, "y": 47.8, "y2": 51.6}]},
          "mark": {"type": "rect", "color": "#1a1a2e"},
          "encoding": {
            "x": {"field": "x", "type": "quantitative", "scale": {"domain": [-0.2, 180.7], "nice": false, "zero": false},
              "axis": {"orient": "bottom", "title": null, "values": [0, 8, 16, 24, 32, 40, 48, 56, 64, 72, 80, 88, 96, 104, 112, 120, 128, 136], "labelExpr": "({'0':'9 Dec 2016','8':'12 Dec 20:00','16':'14 Dec 04:00','24':'15 Dec 12:00','32':'16 Dec 20:00','40':'20 Dec 04:00','48':'21 Dec 12:00','56':'22 Dec 20:00','64':'26 Dec 08:00','72':'27 Dec 16:00','80':'29 Dec 00:00','88':'30 Dec 08:00','96':'2 Jan 16:00','104':'4 Jan 00:00','112':'5 Jan 08:00','120':'6 Jan 16:00','128':'10 Jan 00:00','136':'11 Jan 08:00'})[datum.value]", "labelAlign": "left", "labelFontSize": 4.1, "tickSize": 2, "labelPadding": 1}},
            "x2": {"field": "x2"},
            "y": {"field": "y", "type": "quantitative", "scale": {"domain": [0, 100], "nice": false, "zero": false},
              "axis": {"orient": "right", "title": null, "values": [0, 100], "labelFontSize": 4.2, "tickSize": 0, "labelPadding": 3, "labelFlush": true}},
            "y2": {"field": "y2"}
          }
        },
        {
          "data": {"values": [{"x": 181.75, "y": 49.7, "t": "50"}]},
          "mark": {"type": "text", "align": "center", "baseline": "middle", "fontSize": 3.4, "color": "#ffffff"},
          "encoding": {
            "x": {"field": "x", "type": "quantitative", "scale": {"domain": [-0.2, 180.7], "nice": false, "zero": false},
              "axis": {"orient": "bottom", "title": null, "values": [0, 8, 16, 24, 32, 40, 48, 56, 64, 72, 80, 88, 96, 104, 112, 120, 128, 136], "labelExpr": "({'0':'9 Dec 2016','8':'12 Dec 20:00','16':'14 Dec 04:00','24':'15 Dec 12:00','32':'16 Dec 20:00','40':'20 Dec 04:00','48':'21 Dec 12:00','56':'22 Dec 20:00','64':'26 Dec 08:00','72':'27 Dec 16:00','80':'29 Dec 00:00','88':'30 Dec 08:00','96':'2 Jan 16:00','104':'4 Jan 00:00','112':'5 Jan 08:00','120':'6 Jan 16:00','128':'10 Jan 00:00','136':'11 Jan 08:00'})[datum.value]", "labelAlign": "left", "labelFontSize": 4.1, "tickSize": 2, "labelPadding": 1}},
            "y": {"field": "y", "type": "quantitative", "scale": {"domain": [0, 100], "nice": false, "zero": false},
              "axis": {"orient": "right", "title": null, "values": [0, 100], "labelFontSize": 4.2, "tickSize": 0, "labelPadding": 3, "labelFlush": true}},
            "text": {"field": "t"}
          }
        }
      ]
    }
  ]
}
